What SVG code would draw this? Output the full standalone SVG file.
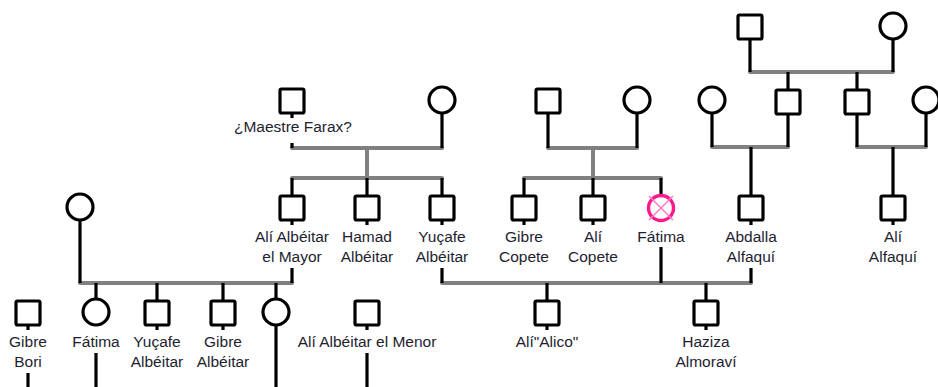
<svg xmlns="http://www.w3.org/2000/svg" width="938" height="387" viewBox="0 0 938 387">
<defs>
<style>
.m{fill:#fff;stroke:#000;stroke-width:3.2}
.f{fill:#fff;stroke:#000;stroke-width:3.2}
.k{stroke:#000;stroke-width:3.2;fill:none}
.g{stroke:#808080;stroke-width:4;fill:none;stroke-linecap:round}
text{font-family:"Liberation Sans",Arial,sans-serif;font-size:15.5px;fill:#1e1e30;text-anchor:middle}
</style>
<rect id="sq" x="-12" y="-12" width="24" height="24" rx="1.5"/>
</defs>
<rect width="938" height="387" fill="#fff"/>
<g id="connectors">
<g class="g">
<path d="M750 72H893M712 147H788M857 147H926M292 148H442M548 148H637M367 148V178M593 148V178M292 178H442M524 178H661M80 283H292M442 283H751"/>
</g>
<g class="k">
<path d="M750 40V72M893 40V72M788 72V89M857 72V89M712 114V147M788 115V147M857 115V147M926 114V147M751 147V195M893 147V195M442 114V148M548 114V148M637 114V148M292 143V148M292 178V195M367 178V195M442 178V195M524 178V195M593 178V195M661 178V194M80 221V283M292 268V283M442 268V283M661 247V283M751 268V283M96 283V299M157 283V300M223 283V300M276 283V299M547 283V300M706 283V300M28 373V387M96 353V387M276 326V387M367 353V387"/>
<path d="M292 114V118M292 221V225M367 221V225M442 221V225M524 221V225M593 221V225M751 221V225M893 221V225M28 326V330M157 326V330M223 326V330M367 326V330M547 326V330M706 326V330"/>
</g>
</g>
<g id="n-top-father"><use href="#sq" class="m" x="750" y="27"/></g>
<g id="n-top-mother"><circle class="f" cx="893" cy="26" r="13"/></g>
<g id="n-maestre-farax"><use href="#sq" class="m" x="292" y="101"/><text x="293" y="132">¿Maestre Farax?</text></g>
<g id="n-farax-wife"><circle class="f" cx="442" cy="100" r="13"/></g>
<g id="n-copete-father"><use href="#sq" class="m" x="548" y="101"/></g>
<g id="n-copete-mother"><circle class="f" cx="637" cy="100" r="13"/></g>
<g id="n-abdalla-mother"><circle class="f" cx="712" cy="100" r="13"/></g>
<g id="n-abdalla-father"><use href="#sq" class="m" x="788" y="102"/></g>
<g id="n-alfaqui-father"><use href="#sq" class="m" x="857" y="102"/></g>
<g id="n-alfaqui-mother"><circle class="f" cx="926" cy="100" r="13"/></g>
<g id="n-mayor-wife"><circle class="f" cx="80" cy="207" r="13"/></g>
<g id="n-ali-mayor"><use href="#sq" class="m" x="292" y="208"/><text x="292" y="242">Alí Albéitar</text><text x="292" y="262">el Mayor</text></g>
<g id="n-hamad"><use href="#sq" class="m" x="367" y="208"/><text x="367" y="242">Hamad</text><text x="367" y="262">Albéitar</text></g>
<g id="n-yucafe"><use href="#sq" class="m" x="442" y="208"/><text x="442" y="242">Yuçafe</text><text x="442" y="262">Albéitar</text></g>
<g id="n-gibre-copete"><use href="#sq" class="m" x="524" y="208"/><text x="524" y="242">Gibre</text><text x="524" y="262">Copete</text></g>
<g id="n-ali-copete"><use href="#sq" class="m" x="593" y="208"/><text x="593" y="242">Alí</text><text x="593" y="262">Copete</text></g>
<g id="n-fatima-copete"><circle cx="661" cy="208" r="12.5" fill="#fff" stroke="#ff1a8c" stroke-width="3.4"/><path d="M649 196L673 220M673 196L649 220" stroke="#ff7ac0" stroke-width="1.5"/><text x="661" y="242">Fátima</text></g>
<g id="n-abdalla"><use href="#sq" class="m" x="751" y="208"/><text x="751" y="242">Abdalla</text><text x="751" y="262">Alfaquí</text></g>
<g id="n-ali-alfaqui"><use href="#sq" class="m" x="893" y="208"/><text x="893" y="242">Alí</text><text x="893" y="262">Alfaquí</text></g>
<g id="n-gibre-bori"><use href="#sq" class="m" x="28" y="313"/><text x="28" y="347">Gibre</text><text x="28" y="367">Bori</text></g>
<g id="n-fatima"><circle class="f" cx="96" cy="312" r="13"/><text x="96" y="347">Fátima</text></g>
<g id="n-yucafe2"><use href="#sq" class="m" x="157" y="313"/><text x="157" y="347">Yuçafe</text><text x="157" y="367">Albéitar</text></g>
<g id="n-gibre-albeitar"><use href="#sq" class="m" x="223" y="313"/><text x="223" y="347">Gibre</text><text x="223" y="367">Albéitar</text></g>
<g id="n-daughter"><circle class="f" cx="276" cy="312" r="13"/></g>
<g id="n-ali-menor"><use href="#sq" class="m" x="367" y="313"/><text x="367" y="347">Alí Albéitar el Menor</text></g>
<g id="n-alico"><use href="#sq" class="m" x="547" y="313"/><text x="547" y="347">Alí"Alico"</text></g>
<g id="n-haziza"><use href="#sq" class="m" x="706" y="313"/><text x="706" y="347">Haziza</text><text x="706" y="367">Almoraví</text></g>
</svg>
